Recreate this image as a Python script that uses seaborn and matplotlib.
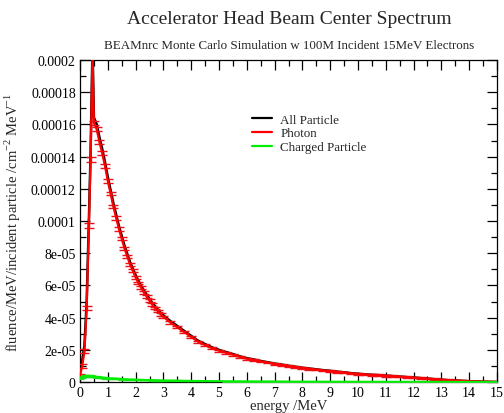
import numpy as np
import pandas as pd
import matplotlib
matplotlib.use("Agg")
import matplotlib.pyplot as plt
from matplotlib.ticker import MultipleLocator, FixedLocator, FixedFormatter
import seaborn as sns

# Energy bins (MeV)
energy = [0.0, 0.08, 0.16, 0.24, 0.32, 0.38, 0.45,
          0.5, 0.6, 0.7, 0.8, 0.9, 1.0, 1.1, 1.2, 1.3, 1.4, 1.5, 1.6, 1.7, 1.8, 1.9,
          2.0, 2.1, 2.2, 2.3, 2.4, 2.5, 2.6, 2.7, 2.8, 2.9, 3.0,
          3.25, 3.5, 3.75, 4.0, 4.25, 4.5, 4.75, 5.0, 5.25, 5.5, 5.75, 6.0,
          6.25, 6.5, 6.75, 7.0, 7.25, 7.5, 7.75, 8.0, 8.25, 8.5, 8.75, 9.0,
          9.25, 9.5, 9.75, 10.0, 10.25, 10.5, 10.75, 11.0, 11.25, 11.5, 11.75, 12.0,
          12.25, 12.5, 12.75, 13.0, 13.25, 13.5, 13.75, 14.0, 14.25, 14.5, 14.75, 15.0]

# Photon fluence (units of 1e-5 per MeV per incident particle per cm^2)
photon = [0.4, 1.0, 1.9, 4.6, 9.7, 13.8, 20.5,
          16.1, 15.7, 14.9, 14.2, 13.4, 12.5, 11.7, 10.9, 10.2, 9.5, 8.9, 8.3, 7.8, 7.3, 6.9,
          6.5, 6.15, 5.85, 5.55, 5.3, 5.05, 4.8, 4.6, 4.4, 4.2, 4.05,
          3.7, 3.4, 3.1, 2.8, 2.5, 2.3, 2.1, 1.95, 1.82, 1.7, 1.56, 1.45,
          1.37, 1.28, 1.2, 1.12, 1.06, 0.99, 0.93, 0.87, 0.82, 0.77, 0.72, 0.68,
          0.63, 0.59, 0.54, 0.5, 0.47, 0.44, 0.42, 0.39, 0.36, 0.33, 0.3, 0.27,
          0.24, 0.21, 0.17, 0.14, 0.11, 0.09, 0.07, 0.05, 0.035, 0.02, 0.008, 0.0]

photon_err = [0.08, 0.1, 0.12, 0.15, 0.15, 0.16, 0.18,
              0.14, 0.13, 0.13, 0.12, 0.12, 0.12, 0.11, 0.11, 0.11, 0.1, 0.1, 0.1, 0.1, 0.1, 0.09,
              0.09, 0.09, 0.09, 0.08, 0.08, 0.08, 0.08, 0.08, 0.08, 0.07, 0.07,
              0.07, 0.07, 0.07, 0.06, 0.06, 0.06, 0.06, 0.06, 0.06, 0.06, 0.06, 0.06,
              0.05, 0.05, 0.05, 0.05, 0.05, 0.05, 0.05, 0.05, 0.05, 0.05, 0.05, 0.05,
              0.05, 0.05, 0.05, 0.05, 0.05, 0.05, 0.05, 0.05, 0.05, 0.05, 0.05, 0.05,
              0.05, 0.05, 0.05, 0.05, 0.05, 0.04, 0.04, 0.04, 0.04, 0.03, 0.03, 0.02]

# Charged particle fluence (same units)
charged = [0.25, 0.33, 0.37, 0.38, 0.37, 0.36, 0.34,
           0.33, 0.31, 0.29, 0.27, 0.25, 0.23, 0.22, 0.21, 0.2, 0.19, 0.18, 0.17, 0.16, 0.15, 0.145,
           0.14, 0.135, 0.13, 0.125, 0.12, 0.115, 0.11, 0.105, 0.1, 0.095, 0.09,
           0.085, 0.08, 0.07, 0.065, 0.06, 0.055, 0.05, 0.045, 0.04, 0.038, 0.035, 0.032,
           0.03, 0.028, 0.026, 0.024, 0.022, 0.02, 0.019, 0.018, 0.017, 0.016, 0.015, 0.014,
           0.013, 0.012, 0.011, 0.01, 0.009, 0.009, 0.008, 0.008, 0.007, 0.007, 0.006, 0.006,
           0.005, 0.005, 0.004, 0.004, 0.003, 0.003, 0.002, 0.002, 0.001, 0.001, 0.0, 0.0]

charged_err = [0.06, 0.06, 0.06, 0.06, 0.06, 0.05, 0.05,
               0.05, 0.05, 0.05, 0.05, 0.04, 0.04, 0.04, 0.04, 0.04, 0.03, 0.03, 0.03, 0.03, 0.03, 0.03,
               0.03, 0.02, 0.02, 0.02, 0.02, 0.02, 0.02, 0.02, 0.02, 0.02, 0.02,
               0.02, 0.02, 0.02, 0.01, 0.01, 0.01, 0.01, 0.01, 0.01, 0.01, 0.01, 0.01,
               0.01, 0.01, 0.01, 0.01, 0.01, 0.01, 0.01, 0.01, 0.01, 0.01, 0.01, 0.01,
               0.01, 0.01, 0.01, 0.01, 0.01, 0.01, 0.01, 0.01, 0.01, 0.01, 0.01, 0.01,
               0.01, 0.01, 0.01, 0.01, 0.01, 0.01, 0.01, 0.01, 0.01, 0.0, 0.0, 0.0]

scale = 1e-5

ytick_values = [0, 2e-5, 4e-5, 6e-5, 8e-5, 1e-4, 1.2e-4, 1.4e-4, 1.6e-4, 1.8e-4, 2e-4]
ytick_labels = ["0", "2e-05", "4e-05", "6e-05", "8e-05", "0.0001",
                "0.00012", "0.00014", "0.00016", "0.00018", "0.0002"]
xtick_values = list(range(0, 16))

title = "Accelerator Head Beam Center Spectrum"
subtitle = "BEAMnrc Monte Carlo Simulation w 100M Incident 15MeV Electrons"

df = pd.DataFrame({
    "energy": energy,
    "photon": np.array(photon) * scale,
    "photon_err": np.array(photon_err) * scale,
    "charged": np.array(charged) * scale,
    "charged_err": np.array(charged_err) * scale,
})
df["all"] = df["photon"] + df["charged"]

sns.set_style("white")
serif = ["Liberation Serif", "DejaVu Serif"]
plt.rcParams["font.family"] = serif
plt.rcParams["mathtext.fontset"] = "custom"
plt.rcParams["mathtext.rm"] = "Liberation Serif"

fig = plt.figure(figsize=(5.04, 4.14), dpi=100)
ax = fig.add_axes([80 / 504, 1 - 383 / 414, 417 / 504, 322 / 414])

sns.lineplot(data=df, x="energy", y="all", ax=ax, color="black", lw=1.8,
             label="All Particle", zorder=3)
ax.errorbar(df["energy"], df["photon"], yerr=df["photon_err"], fmt="none",
            ecolor="#e8141c", elinewidth=1.0, capsize=3.6, capthick=1.0, zorder=4)
sns.lineplot(data=df, x="energy", y="photon", ax=ax, color="#ff0000", lw=1.6,
             label="Photon", zorder=5)
ax.errorbar(df["energy"], df["charged"], yerr=df["charged_err"], fmt="none",
            ecolor="#22dd22", elinewidth=0.9, capsize=3.2, capthick=0.9, zorder=4)
sns.lineplot(data=df, x="energy", y="charged", ax=ax, color="#00ee00", lw=1.6,
             label="Charged Particle", zorder=5)

ax.set_xlim(0, 15)
ax.set_ylim(0, 2e-4)
ax.xaxis.set_major_locator(FixedLocator(xtick_values))
ax.xaxis.set_minor_locator(MultipleLocator(0.5))
ax.yaxis.set_major_locator(FixedLocator(ytick_values))
ax.yaxis.set_major_formatter(FixedFormatter(ytick_labels))
ax.yaxis.set_minor_locator(MultipleLocator(1e-5))

ax.tick_params(which="both", direction="in", top=True, right=True,
               bottom=True, left=True, colors="black", labelsize=10, width=0.9)
ax.tick_params(which="major", length=7, pad=3)
ax.tick_params(which="minor", length=4)
for lbl in ax.get_xticklabels() + ax.get_yticklabels():
    lbl.set_family(serif)
for sp in ax.spines.values():
    sp.set_color("black")
    sp.set_linewidth(0.9)

ax.set_xlabel("energy /MeV", fontsize=10.5, labelpad=0)
ax.set_ylabel(r"fluence/MeV/incident particle /cm$^{-2}$ MeV$^{-1}$",
              fontsize=10.5, labelpad=6)

fig.text(289 / 504, 1 - 20 / 414, title, ha="center", va="center", fontsize=14)
fig.text(289 / 504, 1 - 46 / 414, subtitle, ha="center", va="center", fontsize=9.4)

handles, labels = ax.get_legend_handles_labels()
leg = ax.legend(handles, labels, loc="upper left",
                bbox_to_anchor=(245 / 504, 1 - 108 / 414), bbox_transform=fig.transFigure,
                frameon=False, fontsize=9.4, handlelength=1.6, handletextpad=0.6,
                labelspacing=0.12, borderpad=0)
for line in leg.get_lines():
    line.set_linewidth(1.6)

fig.savefig("out.png", dpi=100)
